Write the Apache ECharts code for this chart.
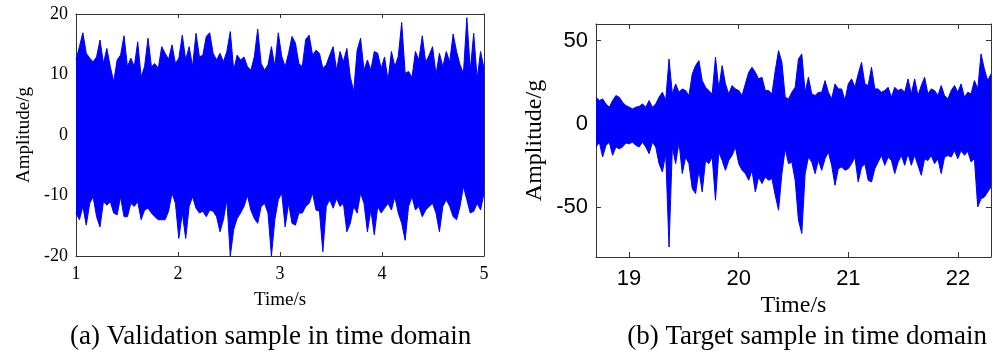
<!DOCTYPE html>
<html><head><meta charset="utf-8">
<script src="https://cdn.jsdelivr.net/npm/echarts@6/dist/echarts.min.js"></script>
<style>html,body{margin:0;padding:0;background:#fff}#c{width:993px;height:359px}</style>
</head><body><div id="c"></div>
<script>
// ---- data (envelope of the dense signal) ----
const leftTimeRange = [1, 5];
const rightTimeRange = [18.7, 22.3];

const leftUpper = [
  12.4, 14.6, 16.9, 13.5, 12.7, 12.1, 12.9, 15.7, 11.8, 14.3,
  11.3, 8.8, 12.4, 13.2, 16.4, 11.3, 12.7, 11.3, 15.4, 9.6,
  11.3, 16.0, 11.3, 11.8, 11.0, 14.6, 13.5, 12.5, 14.9, 11.8,
  12.7, 16.5, 12.4, 14.6, 11.3, 16.8, 12.9, 13.2, 16.3, 16.9,
  13.5, 12.4, 13.5, 12.1, 13.8, 17.1, 10.7, 13.2, 12.4, 12.9,
  11.3, 10.7, 12.9, 17.5, 11.8, 10.7, 11.6, 14.6, 11.3, 16.9,
  13.0, 11.3, 13.5, 16.3, 15.2, 11.8, 11.3, 15.8, 16.5, 13.2,
  14.0, 13.5, 11.0, 11.6, 13.2, 14.6, 10.7, 13.8, 12.1, 14.3,
  9.6, 7.2, 14.0, 16.0, 10.7, 12.4, 10.7, 13.8, 13.5, 11.0,
  12.9, 9.0, 13.8, 11.3, 13.0, 18.6, 10.2, 10.5, 9.5, 13.8,
  12.4, 16.4, 12.0, 13.2, 14.6, 10.0, 13.5, 11.3, 13.8, 12.1,
  16.7, 13.8, 11.6, 10.2, 19.4, 10.7, 16.8, 9.3, 13.8, 11.0
];
const leftLower = [
  -12.9, -14.0, -11.8, -14.9, -11.3, -10.2, -13.5, -15.2, -11.0, -11.6,
  -11.0, -12.9, -13.2, -10.2, -13.5, -13.5, -11.3, -11.8, -11.0, -14.0,
  -12.4, -12.1, -12.9, -13.5, -14.0, -14.0, -14.0, -12.6, -9.6, -11.3,
  -17.1, -12.9, -17.1, -11.8, -10.2, -12.1, -12.9, -12.6, -13.5, -12.4,
  -12.6, -13.5, -16.0, -14.0, -10.7, -20.0, -15.6, -13.8, -12.9, -11.8,
  -10.0, -12.4, -13.8, -14.6, -11.8, -11.3, -12.9, -20.0, -14.0, -10.7,
  -9.6, -15.2, -11.3, -14.6, -14.9, -12.9, -12.9, -11.8, -11.3, -9.6,
  -12.4, -12.6, -19.3, -11.8, -10.7, -12.1, -10.5, -11.8, -11.3, -16.0,
  -14.6, -11.8, -12.9, -9.6, -11.3, -16.0, -12.4, -16.5, -11.8, -12.9,
  -12.1, -11.3, -12.4, -10.2, -12.9, -14.6, -17.4, -11.8, -10.2, -12.4,
  -11.8, -13.5, -12.4, -11.8, -11.3, -12.9, -16.0, -11.8, -10.7, -11.8,
  -13.5, -14.0, -11.8, -8.5, -10.7, -12.9, -12.6, -11.3, -12.4, -9.6
];
const rightUpper = [
  16, 14, 15, 12, 10, 14, 17, 16, 13, 11,
  10, 9, 10, 10.5, 12, 10, 14, 10, 12, 16,
  19, 14, 39, 18, 24, 19, 21, 20, 17, 30,
  35, 38, 26, 22, 20, 18, 40, 21, 35, 24,
  18, 23, 21, 20, 17, 24, 31, 34, 31, 27,
  28, 20, 20, 18, 32, 44, 37, 16, 15, 19,
  22, 39, 42, 19, 28, 18, 17, 19, 19, 26,
  19, 15, 24, 21, 21, 14, 24, 27, 22, 30,
  37, 24, 23, 34, 21, 21, 19, 20, 22, 16,
  22, 20, 21, 19, 27, 18, 27, 17, 23, 28,
  18, 21, 20, 17, 23, 17, 15, 20, 23, 19,
  24, 16, 19, 18, 26, 21, 42, 33, 26, 30
];
const rightLower = [
  -13.9, -11.0, -19.9, -13.0, -11.0, -18.9, -13.9, -15.0, -13.9, -11.5,
  -12.0, -11.0, -12.9, -13.9, -11.0, -13.9, -17.9, -11.0, -13.9, -23.9,
  -28.9, -17.9, -74.0, -13.9, -23.9, -11.0, -29.9, -19.9, -23.9, -38.9,
  -41.9, -27.9, -40.9, -22.0, -23.9, -19.9, -45.9, -17.0, -21.9, -27.9,
  -21.9, -18.9, -14.0, -23.9, -27.9, -29.9, -33.9, -28.0, -40.9, -31.9,
  -35.9, -31.9, -33.9, -32.9, -42.9, -51.9, -30.0, -14.9, -23.9, -22.9,
  -33.9, -57.9, -65.9, -30.0, -19.9, -22.9, -29.9, -21.9, -27.9, -20.9,
  -16.9, -25.0, -36.9, -27.0, -25.9, -27.9, -26.9, -23.9, -20.0, -34.9,
  -26.0, -24.0, -33.9, -34.9, -27.0, -22.9, -19.0, -24.9, -20.0, -22.0,
  -29.9, -23.0, -19.0, -24.9, -18.0, -24.9, -18.9, -25.0, -30.9, -21.0,
  -22.0, -19.0, -23.9, -21.0, -29.9, -20.0, -19.0, -19.9, -16.0, -20.9,
  -16.0, -18.9, -16.5, -22.9, -20.9, -49.9, -45.0, -44.0, -40.9, -37.9
];

const leftXTicks = [1, 2, 3, 4, 5];
const leftYRange = [-20, 20];
const rightXTicks = [19, 20, 21, 22];
const rightYTicks = [-50, 0, 50];
const rightYRange = [-80, 60];
const captions = ['(a) Validation sample in time domain', '(b) Target sample in time domain'];
const xName = 'Time/s';
const yName = 'Amplitude/g';

// sample times: evenly spaced over the shown time window
function withTime(values, range) {
  const n = values.length;
  return values.map((v, i) => [range[0] + (range[1] - range[0]) * i / (n - 1), v]);
}

const AX = '#333';
const BLUE = '#0000ff';
const SERIF = '"Liberation Serif", "Times New Roman", serif';
const SANS = '"Liberation Sans", Arial, sans-serif';

function axisCommon(extra) {
  return Object.assign({
    type: 'value',
    axisLine: { show: true, onZero: false, lineStyle: { color: AX, width: 1 } },
    axisTick: { show: true, inside: true, length: 4, lineStyle: { color: AX, width: 1 } },
    splitLine: { show: false },
    nameMoveOverlap: false
  }, extra);
}

// upper envelope fills down past zero, lower envelope fills up past zero (overlap hides seams)
function sig(values, range, xi, yi, origin) {
  return {
    type: 'line', xAxisIndex: xi, yAxisIndex: yi,
    data: withTime(values, range),
    showSymbol: false, symbol: 'none', silent: true,
    lineStyle: { color: BLUE, width: 1 },
    itemStyle: { color: BLUE },
    areaStyle: { color: BLUE, opacity: 1, origin: origin }
  };
}

const chart = echarts.init(document.getElementById('c'), null, { renderer: 'canvas' });
chart.setOption({
  animation: false,
  backgroundColor: '#fff',
  grid: [
    { left: 76, top: 14, width: 408, height: 242 },
    { left: 596, top: 24, width: 395, height: 233 }
  ],
  xAxis: [
    axisCommon({
      gridIndex: 0, position: 'bottom', min: leftXTicks[0], max: leftXTicks[leftXTicks.length - 1], interval: 1,
      axisLabel: { color: '#000', fontFamily: SERIF, fontSize: 18, margin: 9, showMinLabel: true, showMaxLabel: true },
      name: xName, nameLocation: 'middle', nameGap: 35,
      nameTextStyle: { color: '#000', fontFamily: SERIF, fontSize: 19 }
    }),
    axisCommon({
      gridIndex: 0, position: 'top', min: leftXTicks[0], max: leftXTicks[leftXTicks.length - 1], interval: 1,
      axisLabel: { show: false }
    }),
    axisCommon({
      gridIndex: 1, position: 'bottom', min: rightTimeRange[0], max: rightTimeRange[1],
      axisTick: { show: true, inside: true, length: 5, customValues: rightXTicks, lineStyle: { color: AX, width: 1 } },
      axisLabel: { color: '#000', fontFamily: SANS, fontSize: 22, margin: 11, customValues: rightXTicks },
      name: xName, nameLocation: 'middle', nameGap: 37,
      nameTextStyle: { color: '#000', fontFamily: SERIF, fontSize: 24 }
    }),
    axisCommon({
      gridIndex: 1, position: 'top', min: rightTimeRange[0], max: rightTimeRange[1],
      axisTick: { show: true, inside: true, length: 5, customValues: rightXTicks, lineStyle: { color: AX, width: 1 } },
      axisLabel: { show: false, customValues: rightXTicks }
    })
  ],
  yAxis: [
    axisCommon({
      gridIndex: 0, position: 'left', min: leftYRange[0], max: leftYRange[1], interval: 10,
      axisLabel: { color: '#000', fontFamily: SERIF, fontSize: 18, margin: 8, showMinLabel: true, showMaxLabel: true },
      name: yName, nameLocation: 'middle', nameGap: 42,
      nameTextStyle: { color: '#000', fontFamily: SERIF, fontSize: 19 }
    }),
    axisCommon({
      gridIndex: 0, position: 'right', min: leftYRange[0], max: leftYRange[1], interval: 10,
      axisLabel: { show: false }
    }),
    axisCommon({
      gridIndex: 1, position: 'left', min: rightYRange[0], max: rightYRange[1],
      axisTick: { show: true, inside: true, length: 5, customValues: rightYTicks, lineStyle: { color: AX, width: 1 } },
      axisLabel: { color: '#000', fontFamily: SANS, fontSize: 22, margin: 8, customValues: rightYTicks },
      name: yName, nameLocation: 'middle', nameGap: 49,
      nameTextStyle: { color: '#000', fontFamily: SERIF, fontSize: 24 }
    }),
    axisCommon({
      gridIndex: 1, position: 'right', min: rightYRange[0], max: rightYRange[1],
      axisTick: { show: true, inside: true, length: 5, customValues: rightYTicks, lineStyle: { color: AX, width: 1 } },
      axisLabel: { show: false, customValues: rightYTicks }
    })
  ],
  series: [
    sig(leftUpper, leftTimeRange, 0, 0, -3),
    sig(leftLower, leftTimeRange, 0, 0, 3),
    sig(rightUpper, rightTimeRange, 2, 2, -6),
    sig(rightLower, rightTimeRange, 2, 2, 6)
  ],
  graphic: [
    { type: 'text', x: 70, y: 337, silent: true,
      style: { text: captions[0], font: '27px ' + SERIF, fill: '#000', align: 'left', verticalAlign: 'middle' } },
    { type: 'text', x: 987, y: 337, silent: true,
      style: { text: captions[1], font: '27px ' + SERIF, fill: '#000', align: 'right', verticalAlign: 'middle' } }
  ]
});
</script>
</body></html>
